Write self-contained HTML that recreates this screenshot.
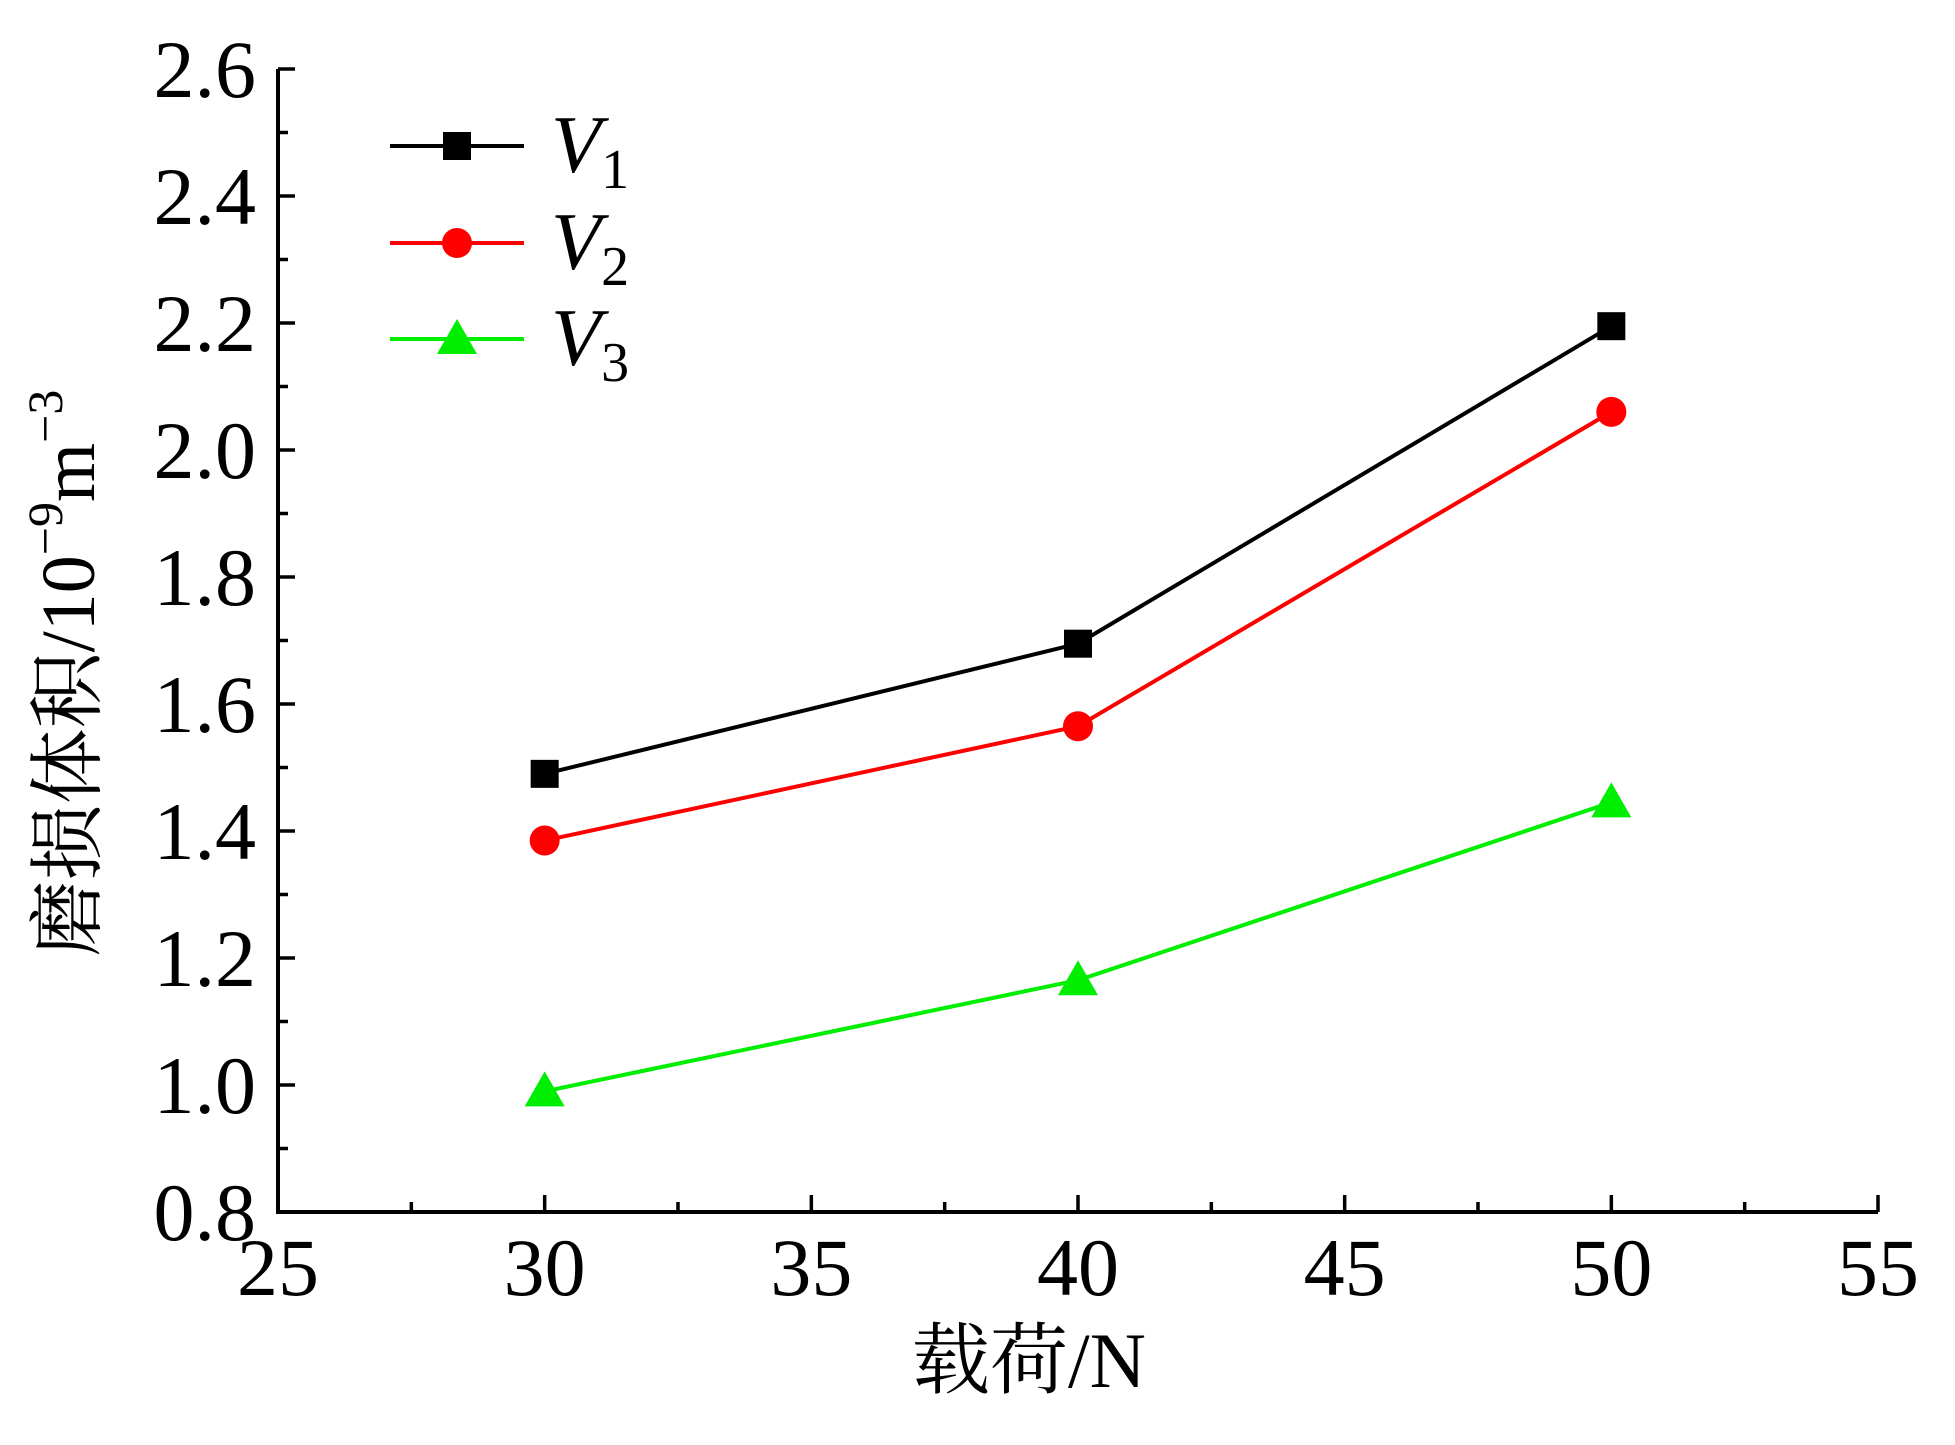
<!DOCTYPE html>
<html><head><meta charset="utf-8"><style>
html,body{margin:0;padding:0;background:#fff;}
svg{display:block;}
text{font-family:"Liberation Serif","Noto Serif CJK SC",serif;fill:#000;}
</style></head><body>
<svg id="chart" width="1955" height="1445" viewBox="0 0 1955 1445">
<g id="axes"></g>
<g id="series"></g>
<g id="legend"></g>
<text x="1029" y="1387" font-size="78" text-anchor="middle" font-family="'Liberation Serif','Noto Serif CJK SC',serif">载荷/N</text>
<text transform="translate(94,673) rotate(-90)" font-size="76" text-anchor="middle" font-family="'Liberation Serif','Noto Serif CJK SC',serif">磨损体积/10<tspan font-size="50" dy="-32">−9</tspan><tspan dy="32">m</tspan><tspan font-size="50" dy="-32">−3</tspan></text>
</svg>
<script>
const categories = [30, 40, 50];
const v1 = [1.49, 1.695, 2.195];
const v2 = [1.385, 1.565, 2.06];
const v3 = [0.99, 1.165, 1.445];
const xTicks = [25, 30, 35, 40, 45, 50, 55];
const yTicks = [0.8, 1.0, 1.2, 1.4, 1.6, 1.8, 2.0, 2.2, 2.4, 2.6];
const seriesNames = ["1", "2", "3"];

const NS = "http://www.w3.org/2000/svg";
const FF = "'Liberation Serif','Times New Roman',serif";
const L = 278, R = 1878, T = 69, B = 1212;
const xMin = 25, xMax = 55, yMin = 0.8, yMax = 2.6;
function xs(v){ return L + (v - xMin) / (xMax - xMin) * (R - L); }
function ys(v){ return B - (v - yMin) / (yMax - yMin) * (B - T); }
function mk(tag, attrs, parent){ const e = document.createElementNS(NS, tag); for (const k in attrs) e.setAttribute(k, attrs[k]); parent.appendChild(e); return e; }

const axes = document.getElementById('axes');
let e = mk('path', {d:`M${L},${T} V${B} H${R}`, fill:'none', stroke:'#000', 'stroke-width':4}, axes);


xTicks.forEach((t, i) => {
  const x = xs(t);
  const tk = mk('line', {x1:x, x2:x, y1:B, y2:B-17, stroke:'#000', 'stroke-width':3.5}, axes);
  
  
  const lb = mk('text', {x:x, y:B+83, 'font-size':82, 'text-anchor':'middle', 'font-family':FF}, axes);
  lb.textContent = t;
  
  
  if (i < xTicks.length - 1) {
    const xm = xs(t + 2.5);
    const mn = mk('line', {x1:xm, x2:xm, y1:B, y2:B-10, stroke:'#000', 'stroke-width':3.5}, axes);
    
    
  }
});
yTicks.forEach((t, i) => {
  const y = ys(t);
  const tk = mk('line', {x1:L, x2:L+17, y1:y, y2:y, stroke:'#000', 'stroke-width':3.5}, axes);
  
  
  const lb = mk('text', {x:L-22, y:y+28, 'font-size':82, 'text-anchor':'end', 'font-family':FF}, axes);
  lb.textContent = t.toFixed(1);
  
  
  if (i < yTicks.length - 1) {
    const ym = ys(t + 0.1);
    const mn = mk('line', {x1:L, x2:L+10, y1:ym, y2:ym, stroke:'#000', 'stroke-width':3.5}, axes);
    
    
  }
});

function marker(type, x, y, color, parent){
  let m;
  if (type === 'square') m = mk('rect', {x:x-14, y:y-14, width:28, height:28, fill:color}, parent);
  else if (type === 'circle') m = mk('circle', {cx:x, cy:y, r:15, fill:color}, parent);
  else m = mk('polygon', {points:`${x},${y-20} ${x-20},${y+15} ${x+20},${y+15}`, fill:color}, parent);
  return m;
}
const sg = document.getElementById('series');
const defs = [[v1, '#000000', 'square'], [v2, '#ff0000', 'circle'], [v3, '#00ee00', 'triangle']];
defs.forEach(([vals, color, type], si) => {
  const pts = categories.map((c, i) => `${xs(c)},${ys(vals[i])}`).join(' ');
  const pl = mk('polyline', {points:pts, fill:'none', stroke:color, 'stroke-width':4}, sg);
  
  
  categories.forEach((c, i) => {
    const m = marker(type, xs(c), ys(vals[i]), color, sg);
    
    
  });
});

const lg = document.getElementById('legend');
const ly = [146, 243, 339];
defs.forEach(([vals, color, type], si) => {
  const y = ly[si];
  const ln = mk('line', {x1:390, x2:524, y1:y, y2:y, stroke:color, 'stroke-width':4}, lg);
  
  
  const m = marker(type, 457, y, color, lg);
  
  
  const tx = mk('text', {x:551, y:y+26, 'font-size':82, 'font-family':FF}, lg);
  tx.innerHTML = `<tspan font-style="italic">V</tspan><tspan font-size="56" dy="16">${seriesNames[si]}</tspan>`;
  
  
});
</script>
</body></html>
